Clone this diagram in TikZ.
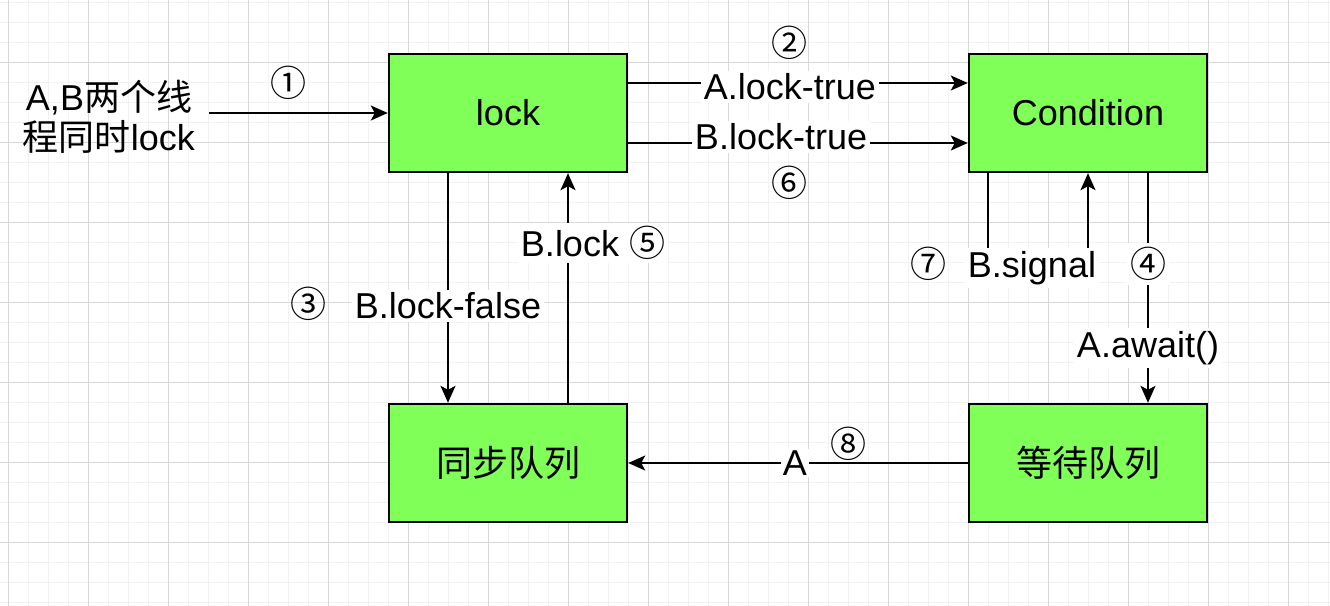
\documentclass[tikz,border=0pt]{standalone}
\usepackage{fontspec}
\setmainfont{Liberation Sans}
\newfontfamily\cjk{Noto Sans CJK SC}
\usetikzlibrary{arrows.meta}
\definecolor{boxgreen}{RGB}{128,255,88}
\definecolor{gridminor}{RGB}{242,242,242}
\definecolor{gridmajor}{RGB}{216,216,216}
\tikzset{
  box/.style={draw=black, line width=1.2pt, fill=boxgreen, minimum width=119pt, minimum height=59pt, inner sep=0pt, font=\fontsize{18}{21}\selectfont},
  arr/.style={line width=1pt, -{Stealth[length=8.5pt, width=7.5pt, inset=2pt]}},
  lbl/.style={fill=white, inner sep=1.5pt, font=\fontsize{18}{21}\selectfont},
  num/.style={inner sep=0pt, font=\cjk\fontsize{18}{21}\selectfont},
  gminor/.style={draw=gridminor, line width=0.5pt},
  gmajor/.style={draw=gridmajor, line width=0.5pt},
}
\begin{document}
\begin{tikzpicture}[x=0.5pt, y=-0.5pt]
\useasboundingbox (0,0) rectangle (1330,606);
\fill[white] (0,0) rectangle (1330,606);
% grid
\foreach \gx in {8,28,...,1328} \draw[gminor] (\gx,0) -- (\gx,606);
\foreach \gy in {2,22,...,602} \draw[gminor] (0,\gy) -- (1330,\gy);
\foreach \gx in {8,88,...,1288} \draw[gmajor] (\gx,0) -- (\gx,606);
\foreach \gy in {62,142,...,542} \draw[gmajor] (0,\gy) -- (1330,\gy);

% nodes
\node[box] (lock) at (508,113) {lock};
\node[box] (cond) at (1088,113) {Condition};
\node[box] (sync) at (508,463) {{\cjk 同步队列}};
\node[box] (wait) at (1088,463) {{\cjk 等待队列}};

\node[font=\fontsize{18}{20}\selectfont, align=center, inner sep=0pt] (src) at (109,117) {A,B{\cjk 两个线}\\{\cjk 程同时}lock};
\coordinate (start) at (209,113);

% edges
\draw[arr] (start) -- (lock.west);
\node[num] (n1) at (288,83) {①};

\draw[arr] (lock.east |- 0,83) -- node[lbl, pos=0.476, yshift=-2pt] (la) {A.lock-true} (cond.west |- 0,83);
\node[num] (n2) at (789,43) {②};

\draw[arr] (lock.east |- 0,143) -- node[lbl, pos=0.45, yshift=3pt] (lb) {B.lock-true} (cond.west |- 0,143);
\node[num] (n6) at (789,183) {⑥};

\draw[arr] (lock.south -| 448,0) -- node[lbl, pos=0.578] (lf) {B.lock-false} (sync.north -| 448,0);
\node[num] (n3) at (308,304) {③};

\draw[arr] (sync.north -| 568,0) -- (lock.south -| 568,0);
\node[lbl] (bl) at (593,243) {B.lock {\cjk ⑤}};

\draw[arr] (cond.south -| 1148,0) -- node[lbl, pos=0.761] (aw) {A.await()} (wait.north -| 1148,0);
\node[num, fill=white, inner sep=2pt] (n4) at (1148,264) {④};

\draw[arr] (cond.south -| 988,0) -- (988,270) -- (1088,270) -- (cond.south -| 1088,0);
\node[lbl] (bs) at (1032,268) {B.signal};
\node[num] (n7) at (928,264) {⑦};

\draw[arr] (wait.west) -- node[lbl, pos=0.509, inner sep=1pt] (la2) {A} (sync.east);
\node[num] (n8) at (848,444) {⑧};
\end{tikzpicture}
\end{document}
